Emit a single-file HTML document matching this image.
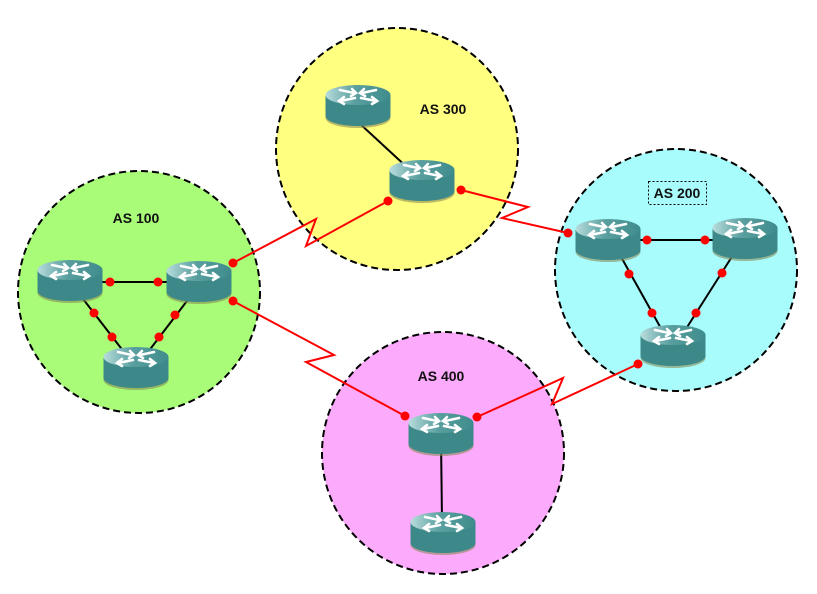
<!DOCTYPE html>
<html><head><meta charset="utf-8"><style>
html,body{margin:0;padding:0;background:#fff;}
svg{display:block;}
text{font-family:"Liberation Sans",sans-serif;font-weight:bold;font-size:14px;fill:#111;}
</style></head><body>
<svg width="817" height="594" viewBox="0 0 817 594" xmlns="http://www.w3.org/2000/svg">
<defs>
<linearGradient id="top" x1="0" y1="0" x2="1" y2="0">
<stop offset="0" stop-color="#b8dcdc"/><stop offset="0.45" stop-color="#5a9f9f"/><stop offset="1" stop-color="#3f8c8c"/>
</linearGradient>
<g id="r">
<ellipse cx="0" cy="12" rx="32.5" ry="10" fill="#8a8a55" opacity="0.6"/>
<rect x="-32.5" y="-11" width="65" height="21" fill="#3d8888"/>
<ellipse cx="0" cy="10" rx="32.5" ry="10" fill="#3d8888"/>
<ellipse cx="0" cy="-11" rx="32.5" ry="10" fill="url(#top)"/>
<g stroke="#fff" stroke-width="2.6" fill="none" stroke-linecap="round">
<path d="M-18,-16 L-4,-13 M-6,-17 L-2,-13 L-7,-10"/>
<path d="M18,-16 L4,-13 M6,-17 L2,-13 L7,-10"/>
<path d="M-3,-8 L-18,-5 M-14,-9 L-19,-5 L-14,-2"/>
<path d="M3,-8 L18,-5 M14,-9 L19,-5 L14,-2"/>
</g>
</g>
</defs>
<g stroke="#000" stroke-width="2" stroke-dasharray="7,4">
<circle cx="139" cy="292" r="121" fill="#a8fc78"/>
<circle cx="397" cy="149" r="121" fill="#ffff80"/>
<circle cx="676" cy="270" r="121" fill="#a8fcfc"/>
<circle cx="443" cy="453" r="121" fill="#fcaafc"/>
</g>
<g stroke="#000" stroke-width="2">
<line x1="70" y1="282" x2="199" y2="282"/>
<line x1="80" y1="295" x2="124" y2="352"/>
<line x1="190" y1="297" x2="148" y2="352"/>
<line x1="345" y1="110" x2="410" y2="170"/>
<line x1="608" y1="240" x2="745" y2="240"/>
<line x1="620" y1="255" x2="663" y2="332"/>
<line x1="733" y1="255" x2="684" y2="332"/>
<line x1="441" y1="440" x2="442" y2="520"/>
</g>
<g stroke="#f00" stroke-width="2" fill="none">
<polyline points="233,263 316,219 306,246 388,201"/>
<polyline points="461,190 528,207 502,218 568,233"/>
<polyline points="233,301 334,355 306,362 405,416"/>
<polyline points="477,417 563,378 552,404 638,364"/>
</g>
<use href="#r" x="70" y="281"/>
<use href="#r" x="199" y="282"/>
<use href="#r" x="136" y="368"/>
<use href="#r" x="358" y="106"/>
<use href="#r" x="422" y="181"/>
<use href="#r" x="608" y="240"/>
<use href="#r" x="745" y="239"/>
<use href="#r" x="673" y="346"/>
<use href="#r" x="441" y="434"/>
<use href="#r" x="443" y="533"/>
<g fill="#f00">
<circle cx="110" cy="282" r="4.5"/><circle cx="158" cy="282" r="4.5"/>
<circle cx="94" cy="313" r="4.5"/><circle cx="112" cy="337" r="4.5"/>
<circle cx="175" cy="315" r="4.5"/><circle cx="159" cy="337" r="4.5"/>
<circle cx="233" cy="263" r="4.5"/><circle cx="233" cy="301" r="4.5"/>
<circle cx="388" cy="201" r="4.5"/><circle cx="461" cy="190" r="4.5"/>
<circle cx="568" cy="233" r="4.5"/>
<circle cx="647" cy="240" r="4.5"/><circle cx="705" cy="240" r="4.5"/>
<circle cx="629" cy="274" r="4.5"/><circle cx="652" cy="313" r="4.5"/>
<circle cx="722" cy="273" r="4.5"/><circle cx="696" cy="313" r="4.5"/>
<circle cx="638" cy="364" r="4.5"/>
<circle cx="405" cy="416" r="4.5"/><circle cx="477" cy="417" r="4.5"/>
</g>
<text x="136" y="223" text-anchor="middle">AS 100</text>
<text x="443" y="114" text-anchor="middle">AS 300</text>
<rect x="648.5" y="181.5" width="58" height="23" fill="none" stroke="#000" stroke-width="1" stroke-dasharray="2,2"/>
<text x="677" y="198" text-anchor="middle">AS 200</text>
<text x="441" y="381" text-anchor="middle">AS 400</text>
</svg>
</body></html>
